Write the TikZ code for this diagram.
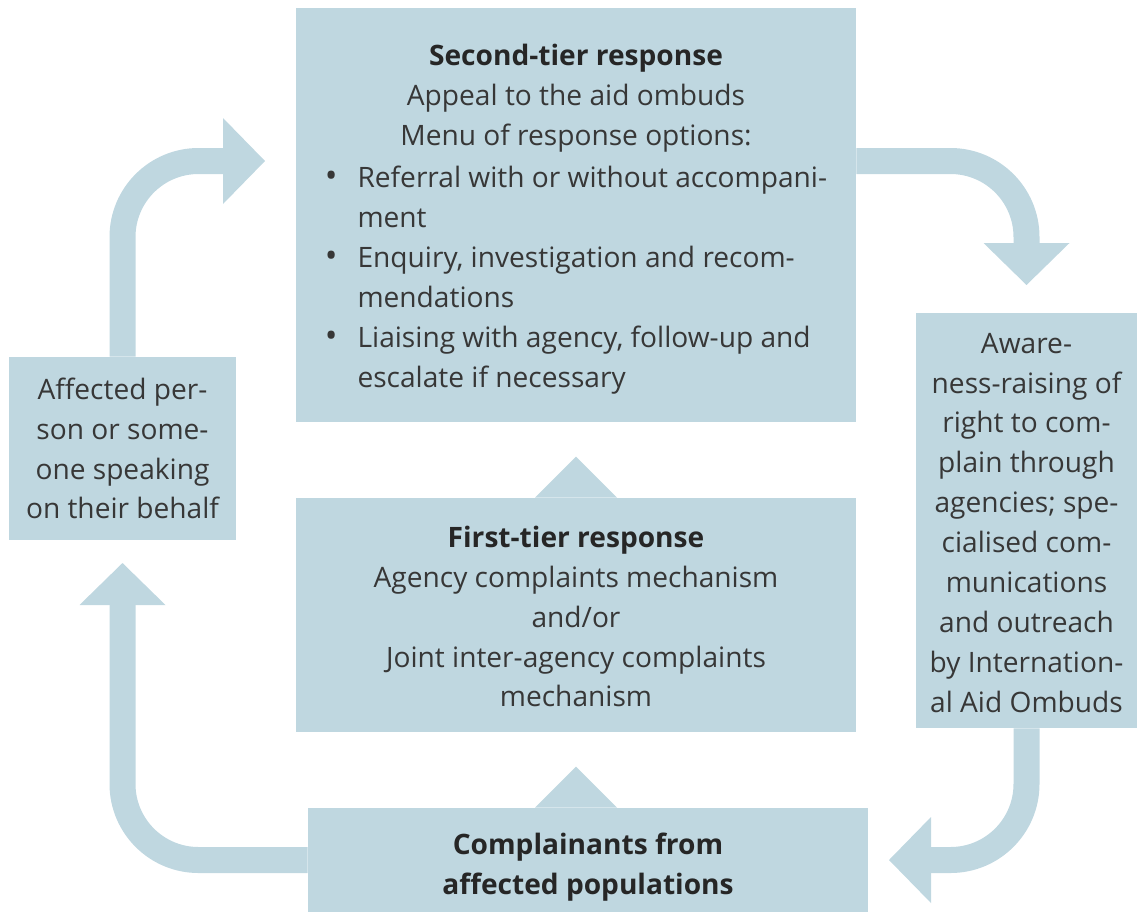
\documentclass[tikz,border=0pt]{standalone}
\usepackage{fontspec}
\setmainfont{Open Sans}
\usepackage{xcolor}
\usetikzlibrary{arrows.meta}
\definecolor{boxblue}{RGB}{191,215,224}
\definecolor{txtgray}{RGB}{55,55,55}
\newcommand{\blt}{\scalebox{1.2}{\textbullet}}

\begin{document}
\begin{tikzpicture}[
    box/.style={fill=boxblue, inner sep=0pt, align=center, text=txtgray,
        font=\fontsize{16}{22.7}\selectfont},
    flow/.style={draw=boxblue, line width=0.52cm, rounded corners=1.52cm,
        -{Triangle[width=1.72cm,length=0.84cm,line width=0pt]}}
    ]
    \useasboundingbox (0,0) rectangle (22.74,-18.26);

    \node[box, minimum width=11.2cm, minimum height=8.28cm] (second) at (11.52,-4.30)
        {{\bfseries\color{black!85}\rule{0pt}{20pt}Second-tier response}\\
         Appeal to the aid ombuds\\
         Menu of response options:\\[3.4pt]
         \begin{tabular}{@{}c@{\hspace{0.4cm}}l@{}}
         \blt & Referral with or without accompani-\\
              & ment\\
         \blt & Enquiry, investigation and recom-\\
              & mendations\\
         \blt & Liaising with agency, follow-up and\\
              & escalate if necessary
         \end{tabular}};
    \node[box, minimum width=11.2cm, minimum height=4.68cm] (first) at (11.52,-12.30)
        {{\bfseries\color{black!85}\rule{0pt}{14pt}First-tier response}\\
         Agency complaints mechanism\\
         and/or\\
         Joint inter-agency complaints\\
         mechanism};
    \node[box, minimum width=11.2cm, minimum height=2.08cm] (comp) at (11.76,-17.20)
        {\bfseries\color{black!85}\rule{0pt}{20.5pt}Complainants from\\
         \bfseries\color{black!85}affected populations};
    \node[box, minimum width=4.54cm, minimum height=3.66cm] (aff) at (2.45,-8.97)
        {Affected per-\\son or some-\\one speaking\\on their behalf};
    \node[box, minimum width=4.42cm, minimum height=8.30cm] (aware) at (20.53,-10.41)
        {\rule{0pt}{14pt}Aware-\\ness-raising of\\right to com-\\plain through\\agencies; spe-\\cialised com-\\munications\\and outreach\\by Internation-\\al Aid Ombuds};

    % small up-pointing triangles
    \fill[boxblue] ([xshift=-0.82cm]first.north) -- ++(0.82,0.82) -- ++(0.82,-0.82) -- cycle;
    \fill[boxblue] ([xshift=-1.06cm]comp.north) -- ++(0.82,0.82) -- ++(0.82,-0.82) -- cycle;

    \coordinate (toSecond) at (5.30,-3.22);
    \coordinate (toAware) at (20.53,-5.70);
    \coordinate (toComp) at (17.78,-17.20);
    \coordinate (toAff) at (2.45,-11.26);

    \draw[flow] (aff.north) |- (toSecond);
    \draw[flow] (second.east |- toSecond) -| (toAware);
    \draw[flow] (aware.south) |- (toComp);
    \draw[flow] (comp.west) -| (toAff);
\end{tikzpicture}
\end{document}
